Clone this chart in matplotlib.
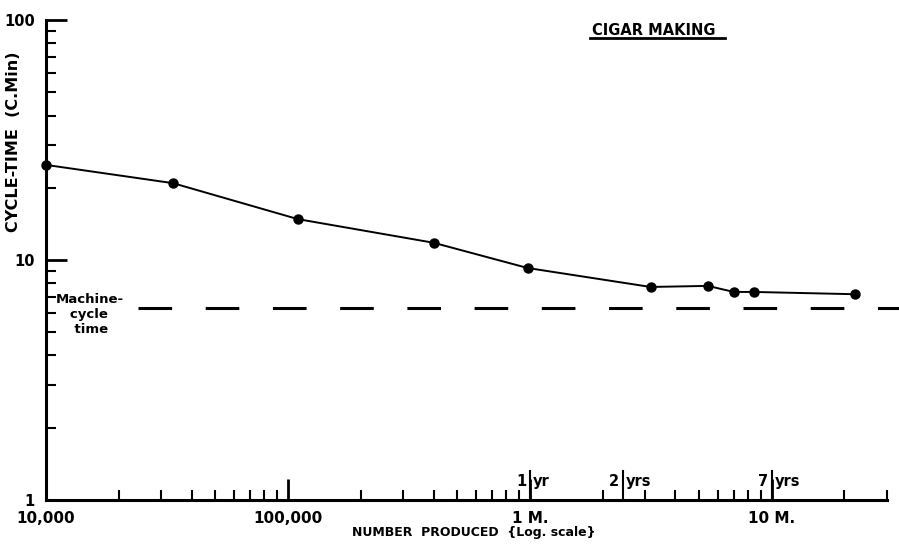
import matplotlib.pyplot as plt
from matplotlib.lines import Line2D
from matplotlib.ticker import LogLocator, NullFormatter, FixedLocator

# Dados
produzido = [10000, 33500, 110000, 400000, 980000, 3160000, 5450000, 6970000, 8430000, 22200000]
ciclo = [24.9, 20.9, 14.8, 11.8, 9.26, 7.72, 7.8, 7.36, 7.36, 7.2]
maquina = 6.3
x_rotulos = [1e4, 1e5, 1e6, 1e7]
x_textos = ['10,000', '100,000', '1 M.', '10 M.']
y_rotulos = [1, 10, 100]
anos_x = [1.0e6, 2.42e6, 1.0e7]
anos_txt = ['1', '2', '7']
anos_suf = ['yr', 'yrs', 'yrs']

fig = plt.figure(figsize=(8.99, 5.45), dpi=100)
ax = fig.add_axes([0.0512, 0.0826, 0.9355, 0.8807])
ax.set_xscale('log')
ax.set_yscale('log')
ax.set_xlim(1e4, 3e7)
ax.set_ylim(1, 100)

ax.plot(produzido, ciclo, 'k-', linewidth=1.4, marker='o', markersize=6.5, clip_on=False, zorder=3)
ax.plot([2.4e4, 3.8e7], [maquina, maquina], color='k', linewidth=2.2,
        dashes=(11, 11), clip_on=False)

for lado in ['top', 'right']:
    ax.spines[lado].set_visible(False)
for lado in ['left', 'bottom']:
    ax.spines[lado].set_linewidth(2.2)

ax.xaxis.set_major_locator(FixedLocator(x_rotulos))
ax.set_xticklabels(x_textos, fontsize=11, fontweight='bold')
ax.xaxis.set_minor_locator(LogLocator(base=10, subs=range(2, 10)))
ax.xaxis.set_minor_formatter(NullFormatter())
ax.yaxis.set_major_locator(FixedLocator(y_rotulos))
ax.set_yticklabels([str(v) for v in y_rotulos], fontsize=10.5, fontweight='bold')
ax.yaxis.set_minor_locator(LogLocator(base=10, subs=range(2, 10)))
ax.yaxis.set_minor_formatter(NullFormatter())
ax.tick_params(which='major', direction='in', length=15, width=2, pad=8, colors='k')
ax.tick_params(which='minor', direction='in', length=7, width=1.5)

ax.set_xlabel('NUMBER  PRODUCED  {Log. scale}', fontsize=9, fontweight='bold')
ax.xaxis.set_label_coords(0.509, -0.055)
ax.set_ylabel('CYCLE-TIME  (C.Min)', fontsize=11.5, fontweight='bold')
ax.yaxis.set_label_coords(-0.03, 0.746)

# Marcas de anos
for xa, t, s in zip(anos_x, anos_txt, anos_suf):
    ax.plot([xa, xa], [1, 1.32], color='k', linewidth=1.5)
    ax.text(xa * 0.97, 1.19, t, ha='right', va='center', fontsize=10.5, fontweight='bold')
    ax.text(xa * 1.03, 1.19, s, ha='left', va='center', fontsize=10.5, fontweight='bold')

ax.text(0.012, 0.387, 'Machine-\n   cycle\n    time', transform=ax.transAxes,
        fontsize=9.5, fontweight='bold', va='center', ha='left', linespacing=1.2)

fig.text(0.727, 0.944, 'CIGAR MAKING', fontsize=10.5, fontweight='bold', ha='center', va='center')
fig.add_artist(Line2D([0.656, 0.807], [0.931, 0.931], color='k', linewidth=2))

plt.savefig('out.png', dpi=100)
